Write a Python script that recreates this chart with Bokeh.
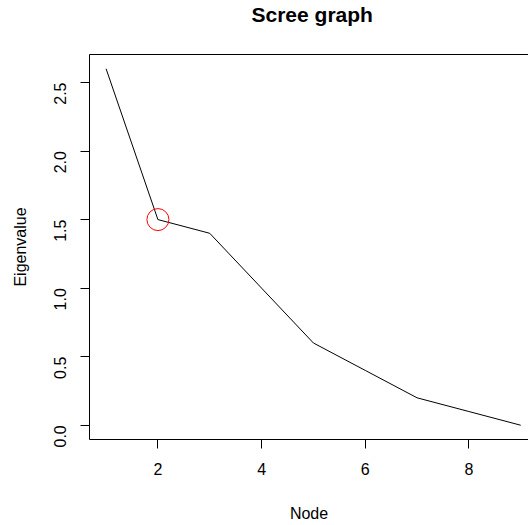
import math
from bokeh.plotting import figure
from bokeh.models import Range1d, LinearAxis, FixedTicker, PrintfTickFormatter, Title
from bokeh.embed import file_html
from bokeh.resources import INLINE

# ---- data ----
nodes = [1, 2, 3, 4, 5, 6, 7, 8, 9]
eigenvalues = [2.6, 1.5, 1.4, 1.0, 0.6, 0.4, 0.2, 0.1, 0.0]
x_ticks = [2, 4, 6, 8]
y_ticks = [0.0, 0.5, 1.0, 1.5, 2.0, 2.5]
elbow_node = [2]
elbow_value = [1.5]
title_text = "Scree graph"
x_label = "Node"
y_label = "Eigenvalue"

FONT = "Liberation Sans"
W, H = 528, 525
BL, BR, BT, BB = 89, 0, 54, 86

# R-style 4% range extension
xr0 = min(nodes) - 0.04 * (max(nodes) - min(nodes))
yr0 = min(eigenvalues) - 0.04 * (max(eigenvalues) - min(eigenvalues))
yr1 = max(eigenvalues) + 0.04 * (max(eigenvalues) - min(eigenvalues))
# the reference image is cropped on the right at the window edge
xpx = 51.83
xr1 = xr0 + (W - BL - BR) / xpx

p = figure(width=W, height=H, output_backend="svg", toolbar_location=None,
           x_range=Range1d(xr0, xr1), y_range=Range1d(yr0, yr1),
           min_border_left=BL, min_border_right=BR, min_border_top=BT, min_border_bottom=BB)
p.outline_line_color = None
p.grid.visible = False
p.background_fill_color = "white"
p.border_fill_color = "white"

p.line(nodes, eigenvalues, line_color="black", line_width=1)
p.scatter(elbow_node, elbow_value, marker="circle", size=22,
          fill_color=None, line_color="red", line_width=1)

for ax in (p.xaxis[0], p.yaxis[0]):
    ax.axis_line_color = "black"
    ax.major_tick_line_color = "black"
    ax.major_tick_out = 9
    ax.major_tick_in = 0
    ax.minor_tick_line_color = None
    ax.major_label_text_font = FONT
    ax.major_label_text_font_size = "16px"
    ax.major_label_text_color = "black"
    ax.axis_label_text_font = FONT
    ax.axis_label_text_font_size = "16px"
    ax.axis_label_text_font_style = "normal"
    ax.axis_label_text_color = "black"

p.xaxis[0].ticker = FixedTicker(ticks=x_ticks)
p.xaxis[0].major_label_standoff = 14
p.xaxis[0].axis_label = x_label
p.xaxis[0].axis_label_standoff = 27

p.yaxis[0].ticker = FixedTicker(ticks=y_ticks)
p.yaxis[0].formatter = PrintfTickFormatter(format="%.1f")
p.yaxis[0].major_label_orientation = math.pi / 2
p.yaxis[0].major_label_standoff = 20
p.yaxis[0].axis_label = y_label
p.yaxis[0].axis_label_standoff = 17

# top border of the box; a blank label keeps the title high above it
top = LinearAxis(axis_line_color="black", major_tick_line_color=None,
                 minor_tick_line_color=None, major_label_text_font_size="0px",
                 ticker=FixedTicker(ticks=[]),
                 axis_label=" ", axis_label_text_color="white",
                 axis_label_text_font=FONT, axis_label_text_font_size="16px",
                 axis_label_standoff=9)
p.add_layout(top, "above")

p.title = Title(text=title_text, align="left", offset=162,
                text_font=FONT, text_font_style="bold", text_font_size="21px",
                text_color="black", standoff=0)

open("out.html", "w").write(file_html(p, INLINE))
